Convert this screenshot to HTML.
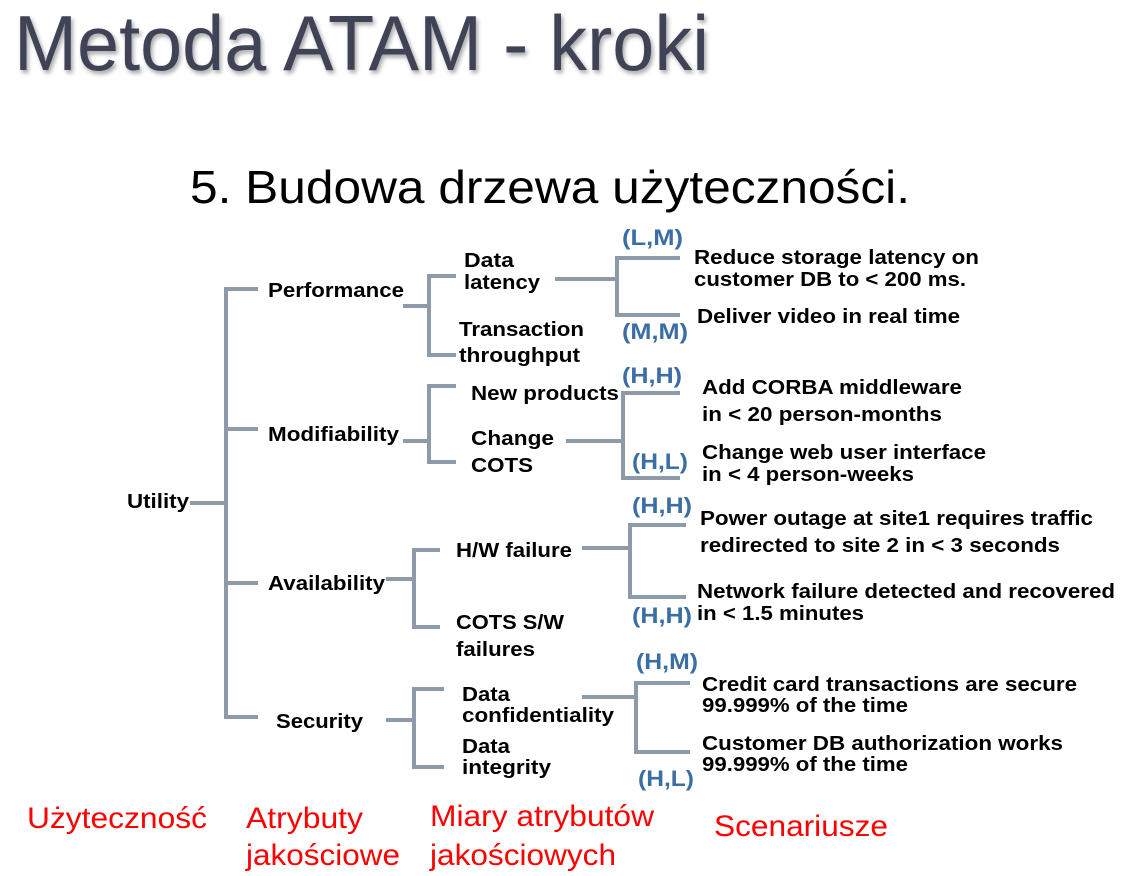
<!DOCTYPE html>
<html><head><meta charset="utf-8"><style>
html,body{margin:0;padding:0;background:#fff;}
svg{display:block;}
.t{font-family:"Liberation Sans",Arial,sans-serif;font-weight:bold;font-size:20px;fill:#000;}
.b{font-family:"Liberation Sans",Arial,sans-serif;font-weight:bold;font-size:22px;fill:#3a6ea5;}
.r{font-family:"Liberation Sans",Arial,sans-serif;font-size:30px;fill:#ff0000;}
</style></head><body>
<svg width="1122" height="876" viewBox="0 0 1122 876" xmlns="http://www.w3.org/2000/svg">
<defs><filter id="sh" x="-5%" y="-20%" width="110%" height="140%"><feDropShadow dx="2" dy="3" stdDeviation="2" flood-color="#000" flood-opacity="0.35"/></filter></defs>
<text x="14" y="70" font-family="Liberation Sans, Arial, sans-serif" font-size="78" fill="#3f4257" filter="url(#sh)" textLength="695" lengthAdjust="spacingAndGlyphs">Metoda ATAM - kroki</text>
<text x="190" y="203" font-family="Liberation Sans, Arial, sans-serif" font-size="46" fill="#000" textLength="720" lengthAdjust="spacingAndGlyphs">5. Budowa drzewa użyteczności.</text>

<g stroke="#8f9aa8" stroke-width="4" fill="none">
<path d="M190 503H226M258 289H226V717H258M226 429H258M226 583H258"/>
<path d="M403 306H429M456 276H429V355H456"/>
<path d="M555 279H617M680 258H617V315H680"/>
<path d="M403 441H429M456 386H429V462H456"/>
<path d="M566 441H623M680 393H623V478H680"/>
<path d="M386 579H414M440 550H414V627H440"/>
<path d="M582 548H630M686 525H630V597H686"/>
<path d="M386 720H414M444 689H414V767H444"/>
<path d="M582 697H636M690 683H636V752H690"/>
</g>

<g class="t">
<text x="127" y="508" textLength="62" lengthAdjust="spacingAndGlyphs">Utility</text>
<text x="268" y="297" textLength="136" lengthAdjust="spacingAndGlyphs">Performance</text>
<text x="268" y="441" textLength="131" lengthAdjust="spacingAndGlyphs">Modifiability</text>
<text x="268" y="590" textLength="117" lengthAdjust="spacingAndGlyphs">Availability</text>
<text x="276" y="728" textLength="87" lengthAdjust="spacingAndGlyphs">Security</text>
<text x="464" y="267" textLength="50" lengthAdjust="spacingAndGlyphs">Data</text>
<text x="464" y="289" textLength="76" lengthAdjust="spacingAndGlyphs">latency</text>
<text x="459" y="336" textLength="125" lengthAdjust="spacingAndGlyphs">Transaction</text>
<text x="459" y="362" textLength="121" lengthAdjust="spacingAndGlyphs">throughput</text>
<text x="471" y="400" textLength="148" lengthAdjust="spacingAndGlyphs">New products</text>
<text x="471" y="445" textLength="83" lengthAdjust="spacingAndGlyphs">Change</text>
<text x="471" y="472" textLength="62" lengthAdjust="spacingAndGlyphs">COTS</text>
<text x="456" y="557" textLength="116" lengthAdjust="spacingAndGlyphs">H/W failure</text>
<text x="456" y="629" textLength="108" lengthAdjust="spacingAndGlyphs">COTS S/W</text>
<text x="456" y="656" textLength="79" lengthAdjust="spacingAndGlyphs">failures</text>
<text x="462" y="701" textLength="48" lengthAdjust="spacingAndGlyphs">Data</text>
<text x="462" y="722" textLength="152" lengthAdjust="spacingAndGlyphs">confidentiality</text>
<text x="462" y="753" textLength="48" lengthAdjust="spacingAndGlyphs">Data</text>
<text x="462" y="774" textLength="89" lengthAdjust="spacingAndGlyphs">integrity</text>

<text x="694" y="264" textLength="285" lengthAdjust="spacingAndGlyphs">Reduce storage latency on</text>
<text x="694" y="286" textLength="272" lengthAdjust="spacingAndGlyphs">customer DB to &lt; 200 ms.</text>
<text x="697" y="323" textLength="263" lengthAdjust="spacingAndGlyphs">Deliver video in real time</text>
<text x="702" y="394" textLength="260" lengthAdjust="spacingAndGlyphs">Add CORBA middleware</text>
<text x="702" y="421" textLength="240" lengthAdjust="spacingAndGlyphs">in &lt; 20 person-months</text>
<text x="702" y="459" textLength="284" lengthAdjust="spacingAndGlyphs">Change web user interface</text>
<text x="702" y="481" textLength="212" lengthAdjust="spacingAndGlyphs">in &lt; 4 person-weeks</text>
<text x="700" y="525" textLength="393" lengthAdjust="spacingAndGlyphs">Power outage at site1 requires traffic</text>
<text x="700" y="552" textLength="360" lengthAdjust="spacingAndGlyphs">redirected to site 2 in &lt; 3 seconds</text>
<text x="697" y="598" textLength="418" lengthAdjust="spacingAndGlyphs">Network failure detected and recovered</text>
<text x="697" y="620" textLength="167" lengthAdjust="spacingAndGlyphs">in &lt; 1.5 minutes</text>
<text x="702" y="691" textLength="375" lengthAdjust="spacingAndGlyphs">Credit card transactions are secure</text>
<text x="702" y="712" textLength="206" lengthAdjust="spacingAndGlyphs">99.999% of the time</text>
<text x="702" y="750" textLength="361" lengthAdjust="spacingAndGlyphs">Customer DB authorization works</text>
<text x="702" y="771" textLength="206" lengthAdjust="spacingAndGlyphs">99.999% of the time</text>
</g>

<g class="b">
<text x="622" y="245" textLength="61" lengthAdjust="spacingAndGlyphs">(L,M)</text>
<text x="622" y="339" textLength="66" lengthAdjust="spacingAndGlyphs">(M,M)</text>
<text x="622" y="383" textLength="60" lengthAdjust="spacingAndGlyphs">(H,H)</text>
<text x="632" y="469" textLength="56" lengthAdjust="spacingAndGlyphs">(H,L)</text>
<text x="632" y="513" textLength="60" lengthAdjust="spacingAndGlyphs">(H,H)</text>
<text x="632" y="623" textLength="60" lengthAdjust="spacingAndGlyphs">(H,H)</text>
<text x="636" y="669" textLength="62" lengthAdjust="spacingAndGlyphs">(H,M)</text>
<text x="638" y="786" textLength="56" lengthAdjust="spacingAndGlyphs">(H,L)</text>
</g>

<g class="r">
<text x="27" y="828" textLength="180" lengthAdjust="spacingAndGlyphs">Użyteczność</text>
<text x="246" y="828" textLength="117" lengthAdjust="spacingAndGlyphs">Atrybuty</text>
<text x="246" y="865" textLength="154" lengthAdjust="spacingAndGlyphs">jakościowe</text>
<text x="430" y="826" textLength="224" lengthAdjust="spacingAndGlyphs">Miary atrybutów</text>
<text x="430" y="865" textLength="186" lengthAdjust="spacingAndGlyphs">jakościowych</text>
<text x="714" y="836" textLength="174" lengthAdjust="spacingAndGlyphs">Scenariusze</text>
</g>
</svg>
</body></html>
